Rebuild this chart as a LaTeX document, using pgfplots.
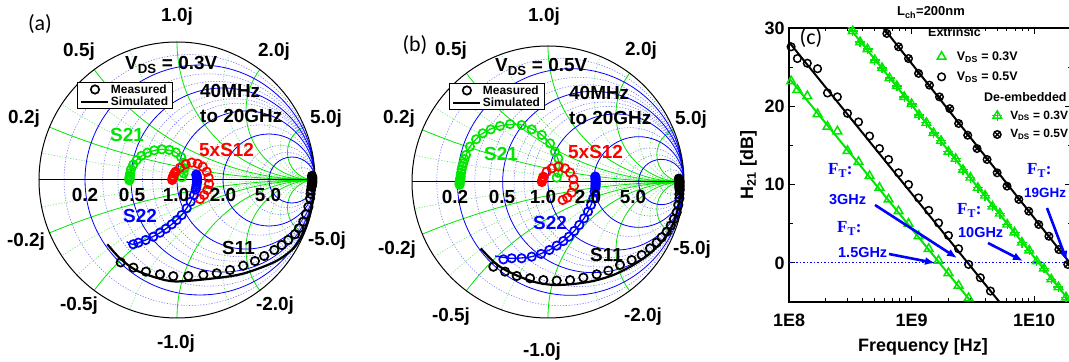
\documentclass[border=0pt]{standalone}
\usepackage{fontspec}
\setmainfont{Liberation Sans}
\newfontfamily\serifbf{Liberation Serif}
\newfontfamily\carlito{Carlito}
\usepackage{pgfplots}
\pgfplotsset{compat=1.18}
\usetikzlibrary{arrows.meta}
\definecolor{gr}{RGB}{0,230,0}
\definecolor{bl}{RGB}{0,0,255}
\definecolor{rd}{RGB}{255,0,0}
\definecolor{lbl}{RGB}{120,120,255}
\definecolor{lgr}{RGB}{110,230,110}
\newcommand{\fsz}[1]{\fontsize{#1}{#1}\selectfont}
\pgfdeclareplotmark{tplus}{\pgfuseplotmark{triangle}\pgfuseplotmark{+}}

\newcommand{\smithgrid}{%
\begin{scope}
\clip (axis cs:0,0) circle[radius=1];
\draw[lbl, line width=0.6bp, dash pattern=on 1.2bp off 1.6bp]
 (axis cs:0.0909,0) circle[radius=0.9091]
 (axis cs:0.2308,0) circle[radius=0.7692]
 (axis cs:0.2857,0) circle[radius=0.7143]
 (axis cs:0.375,0) circle[radius=0.625]
 (axis cs:0.4118,0) circle[radius=0.5882]
 (axis cs:0.4444,0) circle[radius=0.5556]
 (axis cs:0.6,0) circle[radius=0.4]
 (axis cs:0.75,0) circle[radius=0.25]
 (axis cs:0.8,0) circle[radius=0.2]
 (axis cs:0.9091,0) circle[radius=0.0909];
\draw[lgr, line width=0.6bp, dash pattern=on 1.2bp off 1.6bp]
 (axis cs:1,10) circle[radius=10] (axis cs:1,-10) circle[radius=10]
 (axis cs:1,3.3333) circle[radius=3.3333] (axis cs:1,-3.3333) circle[radius=3.3333]
 (axis cs:1,2.5) circle[radius=2.5] (axis cs:1,-2.5) circle[radius=2.5]
 (axis cs:1,1.4286) circle[radius=1.4286] (axis cs:1,-1.4286) circle[radius=1.4286]
 (axis cs:1,0.6667) circle[radius=0.6667] (axis cs:1,-0.6667) circle[radius=0.6667]
 (axis cs:1,0.3333) circle[radius=0.3333] (axis cs:1,-0.3333) circle[radius=0.3333]
 (axis cs:1,0.25) circle[radius=0.25] (axis cs:1,-0.25) circle[radius=0.25]
 (axis cs:1,0.1) circle[radius=0.1] (axis cs:1,-0.1) circle[radius=0.1];
\draw[gr, line width=0.8bp]
 (axis cs:1,5) circle[radius=5] (axis cs:1,-5) circle[radius=5]
 (axis cs:1,2) circle[radius=2] (axis cs:1,-2) circle[radius=2]
 (axis cs:1,1) circle[radius=1] (axis cs:1,-1) circle[radius=1]
 (axis cs:1,0.5) circle[radius=0.5] (axis cs:1,-0.5) circle[radius=0.5]
 (axis cs:1,0.2) circle[radius=0.2] (axis cs:1,-0.2) circle[radius=0.2];
\draw[bl, line width=0.8bp]
 (axis cs:0.1667,0) circle[radius=0.8333]
 (axis cs:0.3333,0) circle[radius=0.6667]
 (axis cs:0.5,0) circle[radius=0.5]
 (axis cs:0.6667,0) circle[radius=0.3333]
 (axis cs:0.8333,0) circle[radius=0.1667];
\end{scope}
\draw[black, line width=1bp] (axis cs:-1,0) -- (axis cs:1,0);
\draw[black, line width=1bp] (axis cs:0,0) circle[radius=1];
}

\pgfplotsset{
 smithaxis/.style={hide axis, clip=false, xmin=-1, xmax=1, ymin=-1, ymax=1,
   legend style={draw=black, line width=0.8bp, fill=white, inner xsep=3bp, inner ysep=0.5bp,
     font=\bfseries\fsz{12}, row sep=-1bp, cells={anchor=west}, nodes={inner sep=1.5bp}},
   legend image code/.code={\draw[mark repeat=2,mark phase=2,##1] plot coordinates {(0bp,0bp) (13.5bp,0bp) (27bp,0bp)};}},
 meas/.style={only marks, mark=o, mark size=4.2bp, mark options={line width=1.7bp}},
 sim/.style={line width=1.3bp, smooth, no marks},
 clegend/.style={legend style={anchor=north west, draw=none, fill=none, inner sep=0bp,
     cells={anchor=west}, nodes={inner sep=2bp}},
   legend image code/.code={\draw[mark repeat=2,mark phase=2,##1] plot coordinates {(0bp,0bp) (15bp,0bp) (30bp,0bp)};}},
}

\begin{document}
\begin{tikzpicture}
\useasboundingbox (0,0) rectangle (1069bp,362bp);

% ---------------- panel (a)
\begin{axis}[smithaxis, x=138bp, y=138bp, at={(39bp,44bp)}, anchor=south west,
  legend style={at={(0.138,0.855)}, anchor=north west}]
\smithgrid
\addlegendimage{meas, black}\addlegendentry{Measured}
\addlegendimage{black, line width=2bp}\addlegendentry{Simulated}
\addplot[meas, gr, forget plot] coordinates {(-0.345,-0.003)(-0.345,0.006)(-0.344,0.014)(-0.343,0.022)(-0.342,0.032)(-0.339,0.050)(-0.333,0.077)(-0.317,0.112)(-0.292,0.145)(-0.258,0.175)(-0.215,0.198)(-0.165,0.215)(-0.110,0.222)(-0.055,0.218)(-0.008,0.200)(0.030,0.165)(0.050,0.125)(0.055,0.085)(0.048,0.048)(0.035,0.020)};
\addplot[sim, gr, forget plot] coordinates {(-0.345,-0.003)(-0.342,0.032)(-0.333,0.077)(-0.292,0.145)(-0.215,0.198)(-0.110,0.222)(-0.008,0.200)(0.050,0.125)(0.048,0.048)(0.035,0.020)};
\addplot[meas, rd, forget plot] coordinates {(-0.035,0.000)(-0.033,0.010)(-0.030,0.020)(-0.027,0.030)(-0.020,0.045)(-0.010,0.060)(0.022,0.089)(0.063,0.114)(0.106,0.126)(0.150,0.118)(0.186,0.097)(0.215,0.060)(0.229,0.017)(0.232,-0.029)(0.220,-0.072)(0.196,-0.109)(0.167,-0.138)};
\addplot[meas, bl, forget plot] coordinates {(0.140,0.040)(0.142,0.030)(0.144,0.020)(0.145,0.010)(0.145,0.000)(0.145,-0.010)(0.144,-0.020)(0.142,-0.035)(0.140,-0.050)(0.135,-0.070)(0.123,-0.109)(0.099,-0.157)(0.070,-0.205)(0.034,-0.254)(-0.002,-0.290)(-0.038,-0.321)(-0.080,-0.353)(-0.123,-0.382)(-0.172,-0.411)(-0.227,-0.435)(-0.280,-0.454)(-0.317,-0.466)};
\addplot[sim, bl, forget plot] coordinates {(0.140,0.040)(0.145,0.000)(0.135,-0.070)(0.099,-0.157)(0.034,-0.254)(-0.038,-0.321)(-0.123,-0.382)(-0.227,-0.435)(-0.317,-0.466)(-0.365,-0.447)};
\addplot[meas, black, forget plot] coordinates {(0.978,0.030)(0.980,0.020)(0.980,0.010)(0.980,0.000)(0.980,-0.010)(0.980,-0.020)(0.979,-0.030)(0.977,-0.040)(0.975,-0.050)(0.971,-0.072)(0.968,-0.100)(0.964,-0.133)(0.952,-0.194)(0.935,-0.249)(0.915,-0.302)(0.884,-0.350)(0.855,-0.393)(0.806,-0.435)(0.759,-0.471)(0.705,-0.507)(0.632,-0.551)(0.565,-0.587)(0.480,-0.621)(0.384,-0.652)(0.288,-0.676)(0.191,-0.688)(0.082,-0.696)(-0.027,-0.697)(-0.123,-0.683)(-0.225,-0.664)(-0.316,-0.635)(-0.408,-0.597)};
\addplot[sim, black, line width=2.2bp, forget plot] coordinates {(-0.505,-0.466)(-0.413,-0.568)(-0.300,-0.652)(-0.150,-0.708)(-0.014,-0.735)(0.227,-0.717)(0.469,-0.681)(0.710,-0.592)(0.855,-0.483)(0.940,-0.326)(0.981,-0.157)(0.995,0.000)};
\end{axis}

% ---------------- panel (b)
\begin{axis}[smithaxis, x=136bp, y=136bp, at={(412bp,44bp)}, anchor=south west,
  legend style={at={(0.136,0.864)}, anchor=north west}]
\smithgrid
\addlegendimage{meas, black}\addlegendentry{Measured}
\addlegendimage{black, line width=2bp}\addlegendentry{Simulated}
\addplot[meas, gr, forget plot] coordinates {(-0.650,-0.020)(-0.650,-0.010)(-0.649,0.000)(-0.648,0.010)(-0.646,0.020)(-0.644,0.030)(-0.642,0.044)(-0.639,0.068)(-0.635,0.093)(-0.630,0.115)(-0.623,0.137)(-0.614,0.168)(-0.603,0.199)(-0.574,0.260)(-0.529,0.314)(-0.480,0.358)(-0.421,0.387)(-0.353,0.412)(-0.279,0.426)(-0.194,0.419)(-0.120,0.387)(-0.046,0.346)(0.015,0.284)(0.051,0.223)(0.076,0.174)(0.083,0.118)(0.076,0.069)(0.064,0.032)};
\addplot[sim, gr, forget plot] coordinates {(-0.650,-0.020)(-0.642,0.044)(-0.623,0.137)(-0.574,0.260)(-0.480,0.358)(-0.353,0.412)(-0.194,0.419)(-0.046,0.346)(0.051,0.223)(0.083,0.118)(0.064,0.032)};
\addplot[meas, rd, forget plot] coordinates {(-0.045,0.000)(-0.043,0.010)(-0.040,0.020)(-0.037,0.030)(-0.034,0.039)(-0.010,0.076)(0.027,0.100)(0.076,0.113)(0.125,0.100)(0.162,0.069)(0.186,0.020)(0.191,-0.029)(0.174,-0.078)(0.142,-0.115)(0.108,-0.132)};
\addplot[meas, bl, forget plot] coordinates {(0.348,0.040)(0.349,0.030)(0.350,0.020)(0.350,0.010)(0.350,0.000)(0.350,-0.010)(0.350,-0.020)(0.349,-0.030)(0.348,-0.045)(0.343,-0.071)(0.333,-0.120)(0.316,-0.169)(0.294,-0.218)(0.265,-0.267)(0.230,-0.316)(0.193,-0.360)(0.154,-0.402)(0.113,-0.434)(0.064,-0.468)(0.010,-0.500)(-0.051,-0.529)(-0.120,-0.549)(-0.194,-0.561)(-0.267,-0.561)(-0.328,-0.569)};
\addplot[sim, bl, forget plot] coordinates {(0.348,0.040)(0.350,0.000)(0.343,-0.071)(0.316,-0.169)(0.265,-0.267)(0.193,-0.360)(0.113,-0.434)(0.010,-0.500)(-0.120,-0.549)(-0.267,-0.561)(-0.390,-0.544)};
\addplot[meas, black, forget plot] coordinates {(0.962,0.025)(0.965,0.015)(0.966,0.005)(0.966,-0.005)(0.966,-0.015)(0.966,-0.025)(0.966,-0.035)(0.966,-0.045)(0.968,-0.059)(0.966,-0.090)(0.966,-0.120)(0.958,-0.169)(0.946,-0.223)(0.926,-0.272)(0.902,-0.321)(0.873,-0.365)(0.836,-0.407)(0.799,-0.446)(0.750,-0.488)(0.689,-0.537)(0.615,-0.574)(0.529,-0.610)(0.444,-0.652)(0.358,-0.679)(0.260,-0.703)(0.162,-0.721)(0.064,-0.725)(-0.034,-0.721)(-0.132,-0.708)(-0.230,-0.691)(-0.316,-0.659)(-0.402,-0.623)};
\addplot[sim, black, line width=2.2bp, forget plot] coordinates {(-0.495,-0.488)(-0.426,-0.561)(-0.353,-0.623)(-0.255,-0.676)(-0.108,-0.733)(0.039,-0.757)(0.186,-0.750)(0.333,-0.728)(0.480,-0.684)(0.627,-0.610)(0.750,-0.525)(0.848,-0.426)(0.921,-0.304)(0.958,-0.181)(0.975,-0.059)(0.977,0.000)};
\end{axis}

% ---------------- panel (c)
\begin{axis}[at={(789bp,60bp)}, anchor=south west, scale only axis, width=282bp, height=274bp,
  xmode=log, xmin=1e8, xmax=2e10, ymin=-5, ymax=30,
  xtick={1e8,1e9,1e10}, xticklabels={1E8,1E9,1E10},
  minor xtick={2e8,3e8,4e8,5e8,6e8,7e8,8e8,9e8,2e9,3e9,4e9,5e9,6e9,7e9,8e9,9e9,2e10},
  ytick={0,10,20,30}, yticklabels={0,10,20,30}, minor ytick={-5,5,15,25},
  tick align=inside, major tick length=6bp, minor tick length=3.5bp,
  every tick/.append style={black, line width=1bp},
  axis line style={line width=1.3bp},
  ticklabel style={font=\bfseries\fsz{18}},
  xticklabel style={yshift=-8bp}, yticklabel style={xshift=-1bp},
  clegend, legend style={at={(0.525,0.922)}, row sep=6bp, font=\bfseries\fsz{12.5}}]
\addlegendimage{only marks, mark=triangle, gr, mark size=5bp, mark options={line width=1.5bp}}
\addlegendentry{\hspace*{9bp}V\textsubscript{DS} = 0.3V}
\addlegendimage{only marks, mark=o, black, mark size=3.8bp, mark options={line width=1.5bp}}
\addlegendentry{\hspace*{9bp}V\textsubscript{DS} = 0.5V}
\addplot[bl, line width=1bp, dash pattern=on 1.5bp off 2bp, forget plot] coordinates {(1e8,0)(2e10,0)};
% extrinsic 0.3 V
\addplot[gr, line width=2bp, forget plot] coordinates {(1e8,23.6)(3.0e9,-4.8)};
\addplot[only marks, mark=triangle, gr, mark size=5bp, mark options={line width=1.5bp}, forget plot] coordinates {(1.04e8,23.2)(1.17e8,22.1)(1.41e8,21.3)(1.71e8,19.0)(2.06e8,17.4)(2.48e8,16.8)(3.00e8,14.3)(3.69e8,12.9)(4.54e8,11.1)(5.47e8,9.6)(6.49e8,8.1)(7.83e8,6.6)(9.44e8,5.0)(1.14e9,3.4)(1.38e9,1.8)(1.66e9,0.3)(2.00e9,-1.3)(2.42e9,-2.9)(2.92e9,-4.5)};
% extrinsic 0.5 V
\addplot[black, line width=2bp, forget plot] coordinates {(1e8,28.2)(5.4e9,-5.3)};
\addplot[only marks, mark=o, black, mark size=3.8bp, mark options={line width=1.5bp}, forget plot] coordinates {(1.04e8,27.6)(1.17e8,26.1)(1.41e8,25.5)(1.71e8,24.8)(2.06e8,21.7)(2.48e8,21.2)(3.00e8,19.1)(3.69e8,18.0)(4.54e8,16.2)(5.47e8,14.6)(6.49e8,13.2)(7.83e8,11.5)(9.44e8,10.0)(1.14e9,8.3)(1.38e9,6.7)(1.66e9,5.1)(2.00e9,3.5)(2.42e9,1.8)(2.92e9,-0.2)(3.64e9,-1.9)(4.40e9,-3.6)};
% de-embedded 0.3 V
\addplot[gr, line width=2bp, forget plot] coordinates {(2.8e8,30.9)(2e10,-5.1)};
\addplot[only marks, mark=tplus, gr, mark size=5bp, mark options={line width=1.4bp}, forget plot] coordinates {(2.88e8,30.6)(3.31e8,29.6)(3.80e8,28.2)(4.37e8,27.3)(5.01e8,25.9)(5.75e8,24.9)(6.61e8,23.6)(7.59e8,22.6)(8.71e8,21.2)(1.00e9,20.3)(1.15e9,18.9)(1.32e9,17.9)(1.51e9,16.6)(1.74e9,15.6)(2.00e9,14.2)(2.29e9,13.3)(2.63e9,11.9)(3.02e9,10.9)(3.47e9,9.6)(3.98e9,8.6)(4.57e9,7.2)(5.25e9,6.3)(6.03e9,4.9)(6.92e9,3.9)(7.94e9,2.6)(9.12e9,1.6)(1.05e10,0.2)(1.20e10,-0.7)(1.38e10,-2.1)(1.58e10,-3.1)(1.82e10,-4.4)};
% de-embedded 0.5 V
\addplot[black, line width=2bp, forget plot] coordinates {(5.5e8,30.6)(2e10,-0.2)};
\addplot[only marks, mark=otimes, black, mark size=3.8bp, mark options={line width=1.4bp}, forget plot] coordinates {(6.28e8,29.3)(7.83e8,27.6)(9.44e8,26.1)(1.14e9,24.2)(1.40e9,22.7)(1.69e9,21.2)(2.05e9,19.7)(2.42e9,17.8)(2.87e9,16.3)(3.42e9,14.6)(4.13e9,13.2)(4.99e9,11.5)(6.01e9,9.8)(7.50e9,8.1)(9.04e9,6.6)(1.09e10,4.9)(1.32e10,3.4)(1.59e10,1.7)(1.88e10,-0.2)};
\end{axis}

% de-embedded legend (overlay axis)
\begin{axis}[at={(789bp,60bp)}, anchor=south west, scale only axis, width=282bp, height=274bp,
  hide axis, xmin=0, xmax=1, ymin=0, ymax=1,
  clegend, legend style={at={(0.720,0.706)}, row sep=5bp, font=\bfseries\fsz{12}}]
\addlegendimage{only marks, mark=tplus, gr, mark size=5bp, mark options={line width=1.4bp}}
\addlegendentry{\hspace*{6bp}V\textsubscript{DS} = 0.3V}
\addlegendimage{only marks, mark=otimes, black, mark size=3.8bp, mark options={line width=1.4bp}}
\addlegendentry{\hspace*{6bp}V\textsubscript{DS} = 0.5V}
\end{axis}

% ---------------- texts panel (a)
\begin{scope}[every node/.style={font=\bfseries\fsz{19}, inner sep=0pt}]
\node[font=\carlito\fsz{22}] at (40bp,338bp) {(a)};
\node[anchor=base] at (177bp,340bp) {1.0j};
\node[anchor=base] at (79bp,305bp) {0.5j};
\node[anchor=base] at (274bp,305bp) {2.0j};
\node[anchor=base] at (24bp,238bp) {0.2j};
\node[anchor=base] at (326bp,238bp) {5.0j};
\node[anchor=base] at (26bp,115bp) {-0.2j};
\node[anchor=base] at (327bp,116bp) {-5.0j};
\node[anchor=base] at (79bp,51bp) {-0.5j};
\node[anchor=base] at (275bp,51bp) {-2.0j};
\node[anchor=base] at (176bp,14bp) {-1.0j};
\node[anchor=base] at (85bp,160bp) {0.2};
\node[anchor=base] at (132bp,160bp) {0.5};
\node[anchor=base] at (176bp,160bp) {1.0};
\node[anchor=base] at (223bp,160bp) {2.0};
\node[anchor=base] at (268bp,160bp) {5.0};
\node[anchor=base west] at (125bp,292bp) {V\textsubscript{DS} = 0.3V};
\node[anchor=base west] at (200bp,264bp) {40MHz};
\node[anchor=base west] at (200bp,239bp) {to 20GHz};
\node[anchor=base west, text=gr] at (110bp,220bp) {S21};
\node[anchor=base west, text=rd] at (199bp,205bp) {5xS12};
\node[anchor=base west, text=bl] at (123bp,139bp) {S22};
\node[anchor=base west] at (222bp,107bp) {S11};
% panel (b)
\node[font=\carlito\fsz{22}] at (415bp,317bp) {(b)};
\node[anchor=base] at (544bp,340bp) {1.0j};
\node[anchor=base] at (451bp,306bp) {0.5j};
\node[anchor=base] at (641bp,306bp) {2.0j};
\node[anchor=base] at (399bp,238bp) {0.2j};
\node[anchor=base] at (691bp,237bp) {5.0j};
\node[anchor=base] at (397bp,107bp) {-0.2j};
\node[anchor=base] at (692bp,107bp) {-5.0j};
\node[anchor=base] at (451bp,40bp) {-0.5j};
\node[anchor=base] at (643bp,40bp) {-2.0j};
\node[anchor=base] at (542bp,6bp) {-1.0j};
\node[anchor=base] at (455bp,158bp) {0.2};
\node[anchor=base] at (502bp,158bp) {0.5};
\node[anchor=base] at (543bp,158bp) {1.0};
\node[anchor=base] at (588bp,158bp) {2.0};
\node[anchor=base] at (633bp,158bp) {5.0};
\node[anchor=base west] at (495bp,290bp) {V\textsubscript{DS} = 0.5V};
\node[anchor=base west] at (569bp,262bp) {40MHz};
\node[anchor=base west] at (569bp,237bp) {to 20GHz};
\node[anchor=base west, text=gr] at (484bp,201bp) {S21};
\node[anchor=base west, text=rd] at (568bp,203bp) {5xS12};
\node[anchor=base west, text=bl] at (533bp,132bp) {S22};
\node[anchor=base west] at (590bp,100bp) {S11};
% panel (c)
\node[font=\carlito\fsz{22}] at (811bp,324bp) {(c)};
\node[anchor=base west, font=\bfseries\fsz{13}] at (897bp,346bp) {L\textsubscript{ch}=200nm};
\node[anchor=base west, font=\bfseries\fsz{12.5}] at (928bp,325bp) {Extrinsic};
\node[anchor=base west, font=\bfseries\fsz{12.5}] at (984bp,260bp) {De-embedded};
\node[anchor=base, font=\bfseries\fsz{18}] at (923bp,11bp) {Frequency [Hz]};
\node[anchor=base, rotate=90, font=\bfseries\fsz{18}] at (753bp,197bp) {H\textsubscript{21} [dB]};
\node[anchor=base west, text=bl, font=\serifbf\bfseries\fsz{17}] at (828bp,187bp) {F\textsubscript{T}:};
\node[anchor=base west, text=bl, font=\bfseries\fsz{14.5}] at (829bp,157bp) {3GHz};
\node[anchor=base west, text=bl, font=\serifbf\bfseries\fsz{17}] at (837bp,129bp) {F\textsubscript{T}:};
\node[anchor=base west, text=bl, font=\bfseries\fsz{14.5}] at (838bp,104bp) {1.5GHz};
\node[anchor=base west, text=bl, font=\serifbf\bfseries\fsz{17}] at (957bp,147bp) {F\textsubscript{T}:};
\node[anchor=base west, text=bl, font=\bfseries\fsz{14.5}] at (958bp,124bp) {10GHz};
\node[anchor=base west, text=bl, font=\serifbf\bfseries\fsz{17}] at (1027bp,187bp) {F\textsubscript{T}:};
\node[anchor=base west, text=bl, font=\bfseries\fsz{13.5}] at (1024bp,164bp) {19GHz};
\end{scope}
\begin{scope}[bl, line width=2.6bp]
\draw[-{Latex[length=10bp,width=8bp]}] (875bp,157bp) -- (957bp,104bp);
\draw[-{Latex[length=10bp,width=8bp]}] (889bp,108bp) -- (935bp,99bp);
\draw[-{Latex[length=10bp,width=8bp]}] (988bp,119bp) -- (1023bp,101bp);
\draw[-{Latex[length=10bp,width=8bp]}] (1047bp,154bp) -- (1067bp,101bp);
\end{scope}
\end{tikzpicture}
\end{document}
